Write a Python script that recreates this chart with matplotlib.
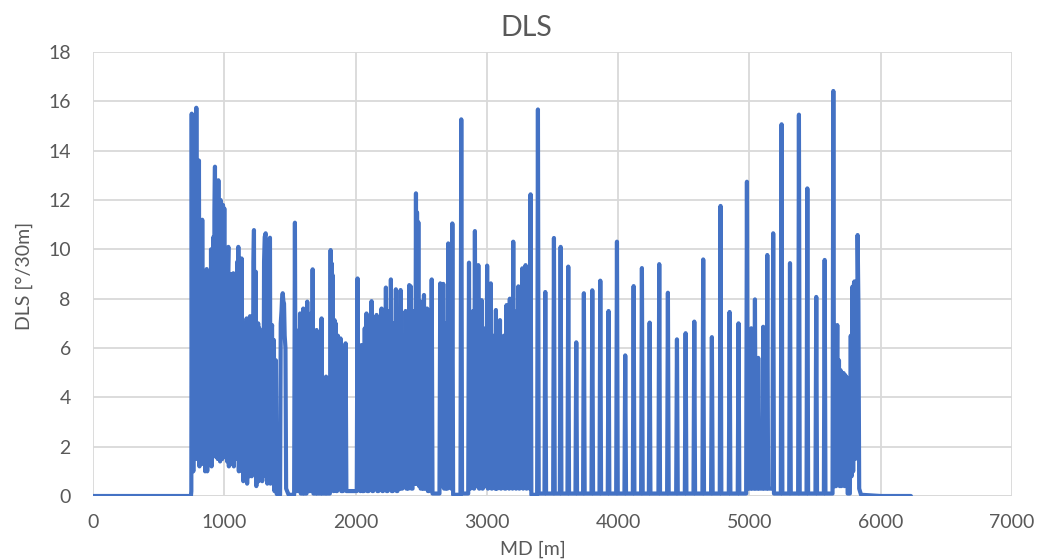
import matplotlib
matplotlib.use("Agg")
import matplotlib.pyplot as plt

# Dogleg severity along measured depth (MD in m, DLS in deg/30m)

# Vertical section, no build
md_vertical = [0, 300, 600, 746]
dls_vertical = [0.0, 0.0, 0.0, 0.0]

# Build section with dense, high-frequency doglegs
md_build = [749, 752, 756, 760, 764, 768, 772, 778, 783, 787, 792, 797, 801, 807,
            811, 816, 820, 825, 829, 832, 836, 841, 845, 850, 854, 859, 863, 866,
            870, 875, 879, 884, 888, 893, 897, 899, 903, 908, 912, 917, 921, 925,
            929, 933, 938, 942, 946, 950, 955, 959, 964, 968, 972, 976, 981, 985,
            990, 994, 1000, 1004, 1009, 1013, 1018, 1022, 1027, 1031, 1035, 1040,
            1044, 1049, 1053, 1058, 1062, 1069, 1073, 1078, 1082, 1087, 1091, 1096,
            1100, 1104, 1107, 1111, 1116, 1120, 1125, 1129, 1132, 1136, 1141, 1145,
            1150, 1154, 1159, 1163, 1170, 1174, 1179, 1183, 1188, 1192, 1196, 1200,
            1205, 1209, 1213, 1217, 1222, 1226, 1230, 1235, 1240, 1244, 1249, 1253,
            1258, 1262, 1267, 1271, 1276, 1280, 1285, 1289, 1294, 1298, 1303, 1308,
            1315, 1319, 1324, 1328, 1333, 1340, 1348, 1352, 1358, 1364, 1368, 1373,
            1378, 1382, 1388, 1393, 1398, 1405, 1425, 1430, 1436, 1440, 1445, 1450,
            1455, 1460, 1466, 1471, 1490, 1530]
dls_build = [0.2, 15.5, 1.5, 14.0, 1.0, 15.0, 2.0, 15.2, 3.0, 15.74, 1.5, 12.5, 2.0, 13.6,
             1.2, 10.5, 2.5, 9.5, 1.8, 11.2, 1.3, 8.5, 2.0, 9.0, 1.0, 8.0, 1.6, 9.2,
             1.0, 8.6, 2.2, 9.0, 1.5, 8.5, 2.5, 10.0, 1.2, 9.5, 2.0, 10.5, 1.8, 11.5,
             13.35, 1.6, 12.0, 2.0, 12.4, 1.5, 12.8, 2.0, 11.5, 1.4, 12.0, 2.2, 11.0, 1.5,
             11.8, 2.0, 11.66, 1.6, 9.5, 2.0, 10.0, 1.4, 9.0, 10.1, 1.2, 8.5,
             2.0, 9.0, 1.3, 8.2, 1.8, 9.03, 1.2, 8.0, 2.0, 7.5, 1.5, 8.8,
             9.5, 1.5, 10.1, 1.0, 8.5, 1.8, 9.2, 1.2, 9.63, 1.0, 7.0, 0.6,
             6.5, 1.8, 6.8, 0.8, 7.2, 0.5, 6.5, 1.5, 6.8, 0.8, 7.29, 1.2,
             6.0, 0.8, 6.5, 1.0, 9.5, 10.78, 1.0, 8.5, 9.09, 0.4, 6.5, 1.1,
             7.0, 0.6, 6.8, 1.5, 6.2, 0.9, 6.4, 0.6, 6.0, 1.0, 9.5, 10.5,
             10.65, 0.8, 9.0, 0.5, 10.0, 10.3, 10.47, 0.5, 6.5, 6.93, 0.7, 6.0,
             6.32, 0.2, 5.5, 5.5, 0.1, 0.05, 0.05, 7.0, 7.5, 8.0, 8.22, 7.9,
             7.8, 6.5, 6.0, 0.3, 0.05, 0.05]

# Hold section: correction peaks and the level the trace drops back to after each
hold_peak_md = [1538, 1560, 1577, 1602, 1632, 1660, 1673, 1703, 1741, 1775, 1810, 1818,
                1825, 1840, 1848, 1865, 1885, 1910, 1924, 2015, 2030, 2045, 2070, 2083,
                2105, 2122, 2140, 2160, 2180, 2198, 2215, 2231, 2250, 2269, 2290, 2307,
                2325, 2343, 2362, 2381, 2395, 2409, 2420, 2440, 2460, 2468, 2478, 2490,
                2510, 2521, 2545, 2565, 2580, 2645, 2668, 2690, 2706, 2722, 2737, 2805,
                2864, 2880, 2895, 2909, 2935, 2950, 2960, 2975, 3002, 3015, 3030, 3045,
                3060, 3069, 3085, 3100, 3115, 3130, 3150, 3165, 3175, 3190, 3201, 3215,
                3230, 3240, 3255, 3270, 3283, 3295, 3310, 3320, 3333]
hold_peak_dls = [11.08, 6.7, 7.4, 7.6, 7.88, 7.4, 9.19, 6.73, 7.2, 4.84, 9.97, 9.43,
                 8.96, 7.13, 7.0, 6.5, 6.39, 6.0, 6.19, 8.82, 5.5, 6.12, 6.8, 7.4,
                 6.5, 7.9, 6.0, 7.34, 6.9, 7.6, 6.5, 8.45, 7.5, 8.78, 7.0, 8.38,
                 7.0, 8.35, 6.5, 7.5, 7.0, 8.55, 8.5, 7.5, 12.27, 11.5, 11.1, 7.9,
                 6.5, 8.15, 7.6, 6.5, 8.78, 8.62, 8.6, 7.0, 10.24, 9.5, 11.05, 15.27,
                 9.46, 7.0, 7.5, 10.74, 9.36, 7.0, 7.94, 6.8, 9.34, 7.5, 8.62, 6.5,
                 6.0, 7.54, 6.5, 7.13, 6.0, 6.5, 7.74, 6.5, 8.0, 7.0, 10.31, 7.0,
                 7.5, 8.5, 6.5, 9.23, 7.0, 9.36, 7.0, 7.0, 12.23]
hold_trough_dls = [0.2, 0.2, 0.1, 0.1, 0.2, 0.3, 0.1, 0.1, 0.1, 0.1, 0.3, 0.4,
                   0.2, 0.3, 0.2, 0.3, 0.2, 0.4, 0.2, 0.3, 0.2, 0.2, 0.4, 0.2,
                   0.3, 0.2, 0.3, 0.2, 0.3, 0.2, 0.3, 0.2, 0.3, 0.2, 0.3, 0.2,
                   0.3, 0.3, 0.4, 0.3, 0.3, 0.4, 0.3, 0.5, 0.5, 0.6, 0.4, 0.3,
                   0.3, 0.3, 0.2, 0.3, 0.1, 0.4, 0.3, 0.3, 0.5, 0.3, 0.05, 0.1,
                   0.3, 0.4, 0.3, 0.4, 0.3, 0.4, 0.3, 0.4, 0.3, 0.4, 0.3, 0.4,
                   0.3, 0.3, 0.4, 0.3, 0.4, 0.3, 0.4, 0.3, 0.4, 0.3, 0.4, 0.3,
                   0.4, 0.3, 0.4, 0.3, 0.4, 0.3, 0.4, 0.3, 0.05]

# Lower section: isolated corrections on a near-zero baseline
low_peak_md = [3389, 3445, 3511, 3562, 3620, 3681, 3739, 3803, 3864, 3927, 3991, 4054,
               4118, 4181, 4240, 4313, 4379, 4448, 4514, 4580, 4648, 4714, 4780, 4849,
               4917, 4981, 5014, 5042, 5067, 5105, 5136, 5181, 5245, 5309, 5377, 5441,
               5509, 5573, 5639]
low_peak_dls = [15.67, 8.27, 10.46, 10.1, 9.3, 6.23, 8.22, 8.34, 8.73, 7.5, 10.31, 5.7,
                8.51, 9.24, 7.03, 9.4, 8.24, 6.35, 6.6, 7.07, 9.59, 6.44, 11.76, 7.46,
                7.0, 12.74, 6.8, 7.97, 5.6, 6.86, 9.77, 10.65, 15.07, 9.44, 15.46, 12.47,
                8.07, 9.57, 16.42]
low_trough_dls = [0.1, 0.1, 0.1, 0.1, 0.1, 0.1, 0.1, 0.1, 0.1, 0.1, 0.1, 0.1,
                  0.1, 0.1, 0.1, 0.1, 0.1, 0.1, 0.1, 0.1, 0.1, 0.1, 0.1, 0.1,
                  0.1, 0.3, 0.3, 0.3, 0.3, 0.3, 0.3, 0.1, 0.1, 0.1, 0.1, 0.1,
                  0.1, 0.1, 0.4]

# Landing section and horizontal run-out
md_landing = [5660, 5669, 5675, 5682, 5688, 5694, 5700, 5706, 5712, 5718, 5724, 5730,
              5736, 5742, 5748, 5765, 5772, 5778, 5784, 5790, 5796, 5800, 5806, 5812,
              5818, 5824, 5830, 5836, 5850, 6000, 6230]
dls_landing = [0.4, 6.93, 0.5, 5.5, 0.4, 5.1, 0.4, 5.0, 0.5, 4.98, 0.4, 4.9,
               0.5, 4.8, 0.1, 0.1, 6.5, 0.8, 8.48, 1.0, 8.6, 8.7, 1.5, 8.0,
               2.0, 10.58, 7.8, 0.3, 0.05, 0.0, 0.0]

x_ticks = [0, 1000, 2000, 3000, 4000, 5000, 6000, 7000]
y_ticks = [0, 2, 4, 6, 8, 10, 12, 14, 16, 18]

# Half-width (m) of the steep flanks of each isolated correction
FLANK = 6


def spikes(peak_md, peak_dls, trough_dls, start_level):
    """Expand peaks into a trace with steep flanks and flat troughs."""
    xs, ys = [], []
    level = start_level
    for m, p, t in zip(peak_md, peak_dls, trough_dls):
        xs += [m - FLANK, m, m + FLANK]
        ys += [level, p, t]
        level = t
    return xs, ys


md = list(md_vertical) + list(md_build)
dls = list(dls_vertical) + list(dls_build)
hx, hy = spikes(hold_peak_md, hold_peak_dls, hold_trough_dls, dls_build[-1])
md += hx
dls += hy
lx, ly = spikes(low_peak_md, low_peak_dls, low_trough_dls, hold_trough_dls[-1])
md += lx + md_landing
dls += ly + dls_landing

plt.rcParams["font.family"] = ["Lato", "DejaVu Sans"]
text_color = "#595959"
grid_color = "#D9D9D9"

fig = plt.figure(figsize=(10.41, 5.59), dpi=100)
ax = fig.add_axes([93 / 1041, 1 - 496 / 559, (1012 - 93) / 1041, (496 - 52) / 559])

ax.plot(md, dls, color="#4472C4", linewidth=3.0, solid_joinstyle="round",
        solid_capstyle="round", zorder=3)

ax.set_xlim(0, 7000)
ax.set_ylim(0, 18)
ax.set_xticks(x_ticks)
ax.set_yticks(y_ticks)
ax.grid(True, color=grid_color, linewidth=1.3, zorder=0)
ax.set_axisbelow(True)
for spine in ax.spines.values():
    spine.set_visible(False)
ax.axhline(0, color=grid_color, linewidth=1.3, zorder=1)

ax.tick_params(axis="both", length=0, labelsize=14, labelcolor=text_color)
ax.tick_params(axis="x", pad=13)
ax.tick_params(axis="y", pad=16)

fig.text(526 / 1041, 1 - 28 / 559, "DLS", ha="center", va="center",
         fontsize=20.5, color=text_color)
fig.text(533 / 1041, 1 - 549 / 559, "MD [m]", ha="center", va="center",
         fontsize=14, color=text_color)
fig.text(24 / 1041, 1 - 276 / 559, "DLS [°/30m]", ha="center", va="center",
         rotation=90, fontsize=14, color=text_color)

fig.savefig("out.png", dpi=100)
